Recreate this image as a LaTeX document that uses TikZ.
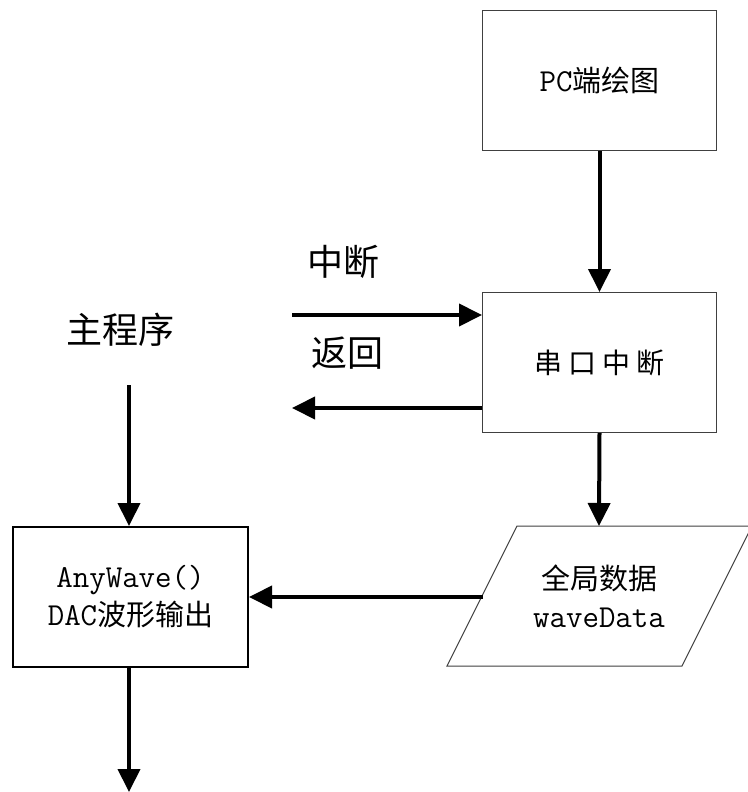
\documentclass[tikz,border=0pt]{standalone}
\usepackage{fontspec}
\newfontfamily\cjk{Noto Sans CJK SC}
\usetikzlibrary{arrows.meta}
\begin{document}
\begin{tikzpicture}[x=1pt,y=-1pt,
  thinbox/.style={draw=black!75,line width=1pt,fill=white,minimum width=234pt,minimum height=140pt,inner sep=0pt,anchor=north west,align=center},
  thickbox/.style={draw=black,line width=2pt,fill=white,minimum width=235pt,minimum height=140pt,inner sep=0pt,anchor=north west,align=center},
  flow/.style={line width=4pt,-{Triangle[length=23pt,width=22pt]}},
  lbl/.style={font=\fontsize{36}{40}\selectfont\cjk,inner sep=0pt}]
\useasboundingbox (0,0) rectangle (747,792);
\node[thinbox] (pc) at (482,10) {\fontsize{32}{32}\selectfont\ttfamily PC{\fontsize{29}{32}\selectfont\cjk 端绘图}};
\node[thinbox,font=\fontsize{28}{32}\selectfont\cjk] (uart) at (482,292) {串 口 中 断};
\node[thickbox,font=\fontsize{32}{38}\selectfont\ttfamily] (any) at (12,526) {AnyWave()\\DAC{\fontsize{29}{38}\selectfont\cjk 波形输出}};
\coordinate (p1) at (447,666);
\coordinate (p2) at (682,666);
\coordinate (p3) at (752,526);
\coordinate (p4) at (517,526);
\draw[draw=black!75,line width=1pt,fill=white] (p1) -- (p2) -- (p3) -- (p4) -- cycle;
\node[font=\fontsize{32}{38}\selectfont\ttfamily,align=center,inner sep=0pt] (data) at (599,596) {{\fontsize{29}{38}\selectfont\cjk 全局数据}\\waveData};
\coordinate (dataL) at (483,597);
\coordinate (dataT) at (599,526);
\node[lbl] (zd) at (343,262) {中断};
\node[lbl] (fh) at (347,353) {返回};
\node[lbl] (main) at (120,330) {主程序};
\coordinate (inS) at (292,315);
\coordinate (outE) at (292,408);
\coordinate (mainB) at (129,385);
\coordinate (endE) at (129,792);
\draw[flow] (pc.south) -- (uart.north);
\draw[flow] (inS) -- (inS -| uart.west);
\draw[flow] (outE -| uart.west) -- (outE);
\draw[flow] (uart.south) -- (dataT);
\draw[flow] (mainB) -- (mainB |- any.north);
\draw[flow] (dataL) -- (dataL -| any.east);
\draw[flow] (any.south -| endE) -- (endE);
\end{tikzpicture}
\end{document}
